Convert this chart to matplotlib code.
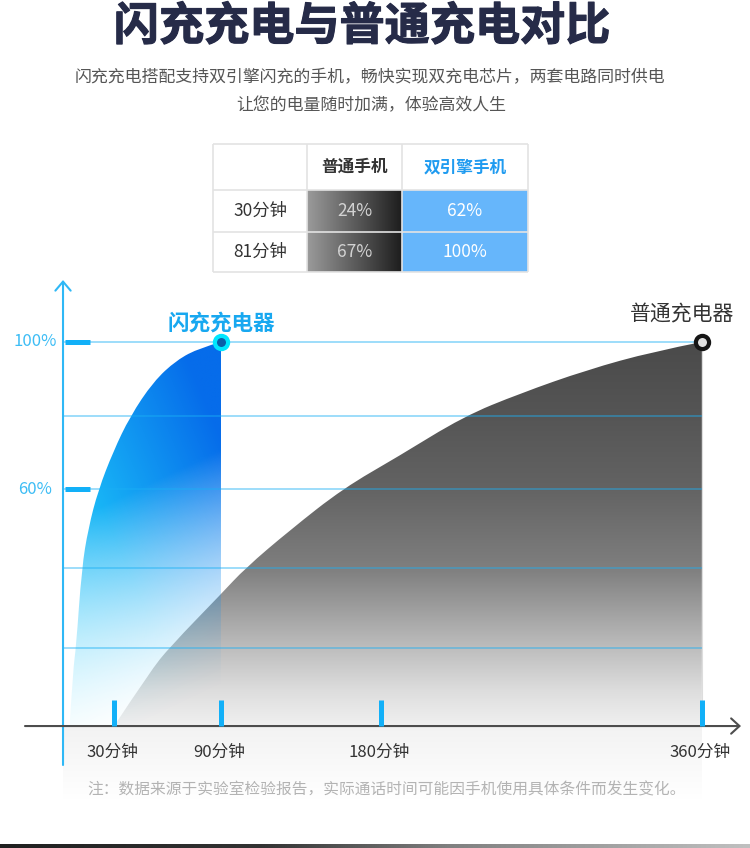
import numpy as np
import matplotlib.pyplot as plt
import matplotlib.patheffects as pe
from matplotlib.patches import PathPatch, Rectangle
from matplotlib.path import Path

plt.rcParams['font.family'] = ['Noto Sans CJK SC', 'DejaVu Sans']

# ---- text ----
title = '闪充充电与普通充电对比'
subtitle = ['闪充充电搭配支持双引擎闪充的手机，畅快实现双充电芯片，两套电路同时供电',
            '让您的电量随时加满，体验高效人生']
note = '注：数据来源于实验室检验报告，实际通话时间可能因手机使用具体条件而发生变化。'

# ---- table ----
table_rows = ['30分钟', '81分钟']
table_cols = ['普通手机', '双引擎手机']
normal_phone = ['24%', '67%']
dual_phone = ['62%', '100%']

# ---- charge curves (minutes, percent) ----
flash_min = [5, 7, 8.6, 11.8, 15.5, 21.1, 29.5, 38.9, 52, 65.1, 78.2, 90]
flash_pct = [-4.5, 11.2, 16.7, 38.4, 49.3, 59.7, 70.2, 79.7, 89.2, 95.1, 98.4, 100]
normal_min = [30, 50.1, 61.4, 90.4, 103.5, 128.7, 158.7, 189.4, 226.1, 257.9, 295.4, 332.7, 360]
normal_pct = [-4.5, 10.3, 17.1, 31.6, 38.4, 48.8, 60.2, 68.8, 79.7, 86.0, 92.4, 97.4, 100]

x_ticks = [30, 90, 180, 360]
x_labels = ['30分钟', '90分钟', '180分钟', '360分钟']
y_marks = [100, 60]
y_labels = ['100%', '60%']
grid_pct = [100, 80, 60, 38.4, 16.7]

# ---- layout (pixels) ----
W, H = 750, 848
PX0, KX = 60.7, 1.781      # x pixel = PX0 + KX * minutes
PY0, KY = 709.5, 3.675     # y pixel = PY0 - KY * percent
BASE = -4.5                # x axis line
AXIS_X = 1.3               # y axis line
BLUE = '#12b0f8'


def fy(py):
    return 1 - py / H


def px2m(px):
    return (px - PX0) / KX


def py2p(py):
    return (PY0 - py) / KY


def area_path(xs, ys, base):
    """Closed area under the points, drawn with quadratic curves so the edge is smooth."""
    pts = list(zip(xs, ys))
    verts = [pts[0]]
    codes = [Path.MOVETO]
    for i in range(1, len(pts) - 2):
        mid = ((pts[i][0] + pts[i + 1][0]) / 2, (pts[i][1] + pts[i + 1][1]) / 2)
        verts += [pts[i], mid]
        codes += [Path.CURVE3, Path.CURVE3]
    verts += [pts[-2], pts[-1], (xs[-1], base), pts[0]]
    codes += [Path.CURVE3, Path.CURVE3, Path.LINETO, Path.CLOSEPOLY]
    return Path(verts, codes)


fig = plt.figure(figsize=(W / 100, H / 100), dpi=100)
fig.patch.set_facecolor('white')

# header texts
fig.text(362 / W, fy(27), title, ha='center', va='center', fontsize=32.5,
         fontweight='heavy', color='#262b48',
         path_effects=[pe.withStroke(linewidth=0.8, foreground='#262b48')])
fig.text(370 / W, fy(77), subtitle[0], ha='center', va='center', fontsize=12.2, color='#555555')
fig.text(371 / W, fy(105), subtitle[1], ha='center', va='center', fontsize=12.2, color='#555555')

# ---- chart ----
top_px, bot_px = 260, 800
ax = fig.add_axes([0, fy(bot_px), 1, (bot_px - top_px) / H])
xlim = (px2m(0), px2m(W))
ylim = (py2p(bot_px), py2p(top_px))
ax.axis('off')

# faint shade below the axis
shade = np.linspace(0, 1, 50)[:, None] * np.ones((1, 2))
shade_rgba = np.ones((50, 2, 4))
shade_rgba[..., :3] = 0.95 + 0.05 * shade[..., None]
ax.imshow(shade_rgba, extent=(AXIS_X, 360, py2p(bot_px), BASE), origin='upper',
          aspect='auto', interpolation='bilinear', zorder=0)

# normal charger: vertical grey gradient
ny = 200
pp = np.linspace(100, BASE, ny)
g = np.interp(pp, [BASE, 5, 17, 38, 60, 80, 100],
              [0xf0, 0xdd, 0xbc, 0x7f, 0x63, 0x55, 0x4a]) / 255
grey = np.ones((ny, 2, 4))
grey[..., 0] = g[:, None]
grey[..., 1] = g[:, None]
grey[..., 2] = g[:, None]
normal_patch = PathPatch(area_path(normal_min, normal_pct, BASE), transform=ax.transData,
                         facecolor='none', edgecolor='none')
ax.add_patch(normal_patch)
im = ax.imshow(grey, extent=(normal_min[0], normal_min[-1], BASE, 100), origin='upper',
               aspect='auto', interpolation='bilinear', zorder=1)
im.set_clip_path(normal_patch)
ax.vlines(normal_min[-1], BASE, 100, color='#dddddd', lw=0.8, zorder=1.5)

# flash charger: diagonal blue gradient fading out towards the bottom
nx, nyf = 120, 200
u = np.linspace(0, 1, nx)[None, :]
v = np.linspace(1, 0, nyf)[:, None]
t = np.clip(0.55 * u + 0.6 * v, 0, 1)
stops = [0, 0.45, 1]
cr = np.interp(t, stops, [0x60, 0x18, 0x06]) / 255
cg = np.interp(t, stops, [0xdc, 0xb4, 0x6c]) / 255
cb = np.interp(t, stops, [0xfc, 0xf6, 0xea]) / 255
alpha = np.clip(1.6 * v - 0.3 * u + 0.15, 0, 1) ** 1.5
flash_img = np.dstack([cr, cg, cb, alpha])
flash_patch = PathPatch(area_path(flash_min, flash_pct, BASE), transform=ax.transData,
                        facecolor='none', edgecolor='none')
ax.add_patch(flash_patch)
im2 = ax.imshow(flash_img, extent=(flash_min[0], flash_min[-1], BASE, 100), origin='upper',
                aspect='auto', interpolation='bilinear', zorder=2)
im2.set_clip_path(flash_patch)

# grid
ax.hlines(grid_pct, AXIS_X, normal_min[-1], color='#1ab0f5', alpha=0.5, lw=1.2, zorder=3)

# axes with open arrow heads
ax.annotate('', xy=(AXIS_X, py2p(280)), xytext=(AXIS_X, py2p(765)),
            arrowprops=dict(arrowstyle='->,head_length=0.65,head_width=0.55', color='#2fb8f6',
                            lw=1.5, shrinkA=0, shrinkB=0, mutation_scale=10), zorder=4)
ax.annotate('', xy=(px2m(741), BASE), xytext=(px2m(25), BASE),
            arrowprops=dict(arrowstyle='->,head_length=0.6,head_width=0.55', color='#4d4d4d',
                            lw=1.5, shrinkA=0, shrinkB=0, mutation_scale=10), zorder=4)

# tick bars
ax.vlines(x_ticks, BASE, BASE + 7.1, color=BLUE, lw=3.6, zorder=5)
ax.hlines(y_marks, AXIS_X + 1, AXIS_X + 15, color=BLUE, lw=3.6, zorder=5)

for x, lbl in zip(x_ticks, x_labels):
    ax.annotate(lbl, xy=(x, BASE), xytext=(-1.5, -19), textcoords='offset points',
                ha='center', va='center', fontsize=12, color='#333333')
for y, lbl in zip(y_marks, y_labels):
    ax.annotate(lbl, xy=(AXIS_X, y), xytext=(-20, 0), textcoords='offset points',
                ha='center', va='center', fontsize=12, color='#3dbdf5')

# end markers and labels
ax.plot(flash_min[-1], flash_pct[-1], 'o', ms=9.5, mfc='#0b5ea8', mec='#00e6ff', mew=3,
        zorder=6)
ax.plot(normal_min[-1], normal_pct[-1], 'o', ms=9.5, mfc='#e2e2e2', mec='#161616', mew=3,
        zorder=6)
ax.annotate('闪充充电器', xy=(flash_min[-1], flash_pct[-1]), xytext=(0, 14),
            textcoords='offset points', ha='center', va='center', fontsize=15.5,
            fontweight='bold', color='#18a8f0')
ax.annotate('普通充电器', xy=(normal_min[-1], normal_pct[-1]), xytext=(-14, 20),
            textcoords='offset points', ha='center', va='center', fontsize=15,
            color='#333333')

ax.set_xlim(*xlim)
ax.set_ylim(*ylim)

# ---- comparison table ----
tx0, tx1, ty0, ty1 = 212, 529, 143, 273
tax = fig.add_axes([tx0 / W, fy(ty1), (tx1 - tx0) / W, (ty1 - ty0) / H])
tax.axis('off')
col_edges = [0, 95, 190, 317]
row_edges = [0, 47, 89, 130]

grad = np.linspace(0x9a, 0x1e, 60) / 255
grad_img = np.dstack([grad, grad, grad]).repeat(2, axis=0)
for i in range(len(table_rows)):
    r0, r1 = row_edges[i + 1], row_edges[i + 2]
    tax.imshow(grad_img, extent=(col_edges[1], col_edges[2], r1, r0), aspect='auto',
               interpolation='bilinear', zorder=1)
    tax.add_patch(Rectangle((col_edges[2], r0), col_edges[3] - col_edges[2], r1 - r0,
                            facecolor='#66b6fb', edgecolor='none', zorder=1))
    rc = (r0 + r1) / 2
    tax.text((col_edges[0] + col_edges[1]) / 2, rc, table_rows[i], ha='center', va='center',
             fontsize=12.5, color='#333333', zorder=3)
    tax.text((col_edges[1] + col_edges[2]) / 2, rc, normal_phone[i], ha='center', va='center',
             fontsize=12.5, color='#d2d2d2', zorder=3)
    tax.text((col_edges[2] + col_edges[3]) / 2, rc, dual_phone[i], ha='center', va='center',
             fontsize=12.5, color='white', zorder=3)

hc = (row_edges[0] + row_edges[1]) / 2
tax.text((col_edges[1] + col_edges[2]) / 2, hc, table_cols[0], ha='center', va='center',
         fontsize=12, fontweight='bold', color='#333333')
tax.text((col_edges[2] + col_edges[3]) / 2, hc, table_cols[1], ha='center', va='center',
         fontsize=12, fontweight='bold', color='#1f9bf0')
tax.hlines(row_edges, 0, col_edges[-1], color='#e3e3e3', lw=1.2, zorder=2)
tax.vlines(col_edges, 0, row_edges[-1], color='#e3e3e3', lw=1.2, zorder=2)
tax.set_xlim(-1, tx1 - tx0 + 1)
tax.set_ylim(ty1 - ty0 + 1, -1)

# footnote
fig.text(387 / W, fy(790), note, ha='center', va='center', fontsize=11.3, color='#b3b3b3')

# dark strip at the very bottom
bax = fig.add_axes([0, 0, 1, 4 / H])
bax.axis('off')
sg = np.interp(np.linspace(0, 1, 200), [0, 0.35, 0.6, 1], [0x20, 0x33, 0x80, 0xc0]) / 255
bax.imshow(np.dstack([sg, sg, sg]).repeat(2, axis=0), aspect='auto',
           extent=(0, 1, 0, 1), interpolation='bilinear')

fig.savefig('out.png', dpi=100, facecolor='white')
